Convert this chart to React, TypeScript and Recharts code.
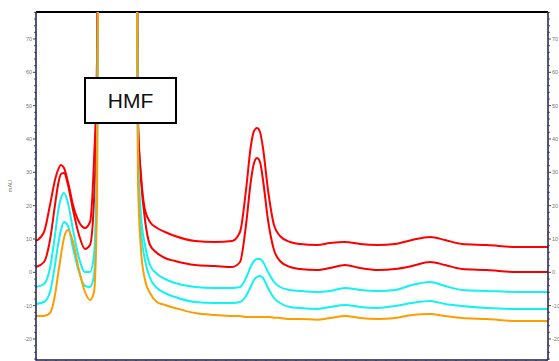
import React from 'react';
import { LineChart, Line, XAxis, YAxis, ReferenceLine } from 'recharts';

// retention time (min)
const TIME = [
  0.0, 0.16, 0.28, 0.38, 0.44, 0.5, 0.56, 0.64, 0.74, 0.86, 0.98, 1.08, 1.16, 1.22, 1.28, 1.64, 1.98,
  2.04, 2.1, 2.18, 2.28, 2.42, 2.58, 2.78, 3.18, 3.58, 3.92, 4.08, 4.2, 4.3, 4.36, 4.42, 4.48, 4.54,
  4.64, 4.76, 4.88, 5.08, 5.28, 5.62, 5.88, 6.18, 6.48, 6.84, 7.18, 7.52, 7.88, 8.18, 8.52, 9.02, 9.62, 10.24,
];

// mAU
const RED_A = [
  9.4, 12.1, 20.2, 27.7, 30.7, 32.2, 31.3, 27.1, 20.2, 15.1, 13.3, 15.1, 33.7, 63.7, 200, 400, 200,
  45.7, 29.2, 18.7, 15.1, 13.3, 12.1, 10.9, 9.4, 9.1, 9.4, 12.1, 24.7, 38.2, 42.4, 43.3, 42.1, 37.3,
  24.7, 14.2, 10.9, 9.1, 8.5, 8.2, 8.8, 9.1, 8.5, 8.2, 8.5, 9.7, 10.6, 9.7, 8.5, 8.2, 7.6, 7.6,
];
const RED_B = [
  1.6, 3.1, 9.7, 20.2, 26.2, 29.5, 29.8, 26.2, 18.7, 11.2, 7.0, 8.2, 21.7, 54.7, 200, 400, 200,
  44.2, 27.7, 15.7, 8.2, 5.8, 4.3, 3.4, 2.2, 1.9, 1.6, 3.1, 14.2, 27.7, 32.8, 34.3, 33.1, 27.7,
  15.7, 6.7, 3.4, 1.6, 1.0, 0.7, 1.3, 2.2, 1.3, 0.7, 1.0, 1.9, 3.1, 2.2, 1.0, 0.7, 0.1, 0.1,
];
const CYAN_A = [
  -4.4, -3.5, 1.3, 11.2, 18.1, 22.3, 23.8, 20.8, 12.7, 4.3, 0.1, 0.1, 5.2, 36.7, 200, 400, 200,
  36.7, 17.2, 8.2, 2.2, -0.5, -2.0, -3.2, -4.4, -4.7, -4.7, -4.4, -1.7, 1.9, 3.4, 4.0, 4.0, 3.1,
  0.1, -2.9, -4.4, -5.3, -5.6, -5.9, -5.6, -4.7, -5.3, -5.6, -5.3, -3.8, -2.9, -4.1, -5.3, -5.6, -5.9, -5.9,
];
const CYAN_B = [
  -9.5, -8.9, -5.9, 2.2, 8.2, 12.7, 15.1, 13.9, 7.3, 0.1, -4.1, -4.4, -0.8, 24.7, 200, 400, 200,
  32.2, 12.7, 3.7, -1.7, -4.7, -6.2, -7.4, -8.9, -9.2, -9.2, -8.9, -7.1, -4.1, -2.3, -1.4, -1.1, -1.7,
  -4.7, -7.7, -9.2, -10.4, -10.7, -11.0, -10.4, -9.8, -10.4, -10.7, -10.1, -9.2, -8.6, -9.5, -10.1, -10.7, -11.0, -11.0,
];
const ORANGE = [
  -13.1, -13.1, -12.2, -6.8, -0.8, 5.2, 10.3, 12.7, 9.1, 0.7, -5.9, -8.3, -5.9, 21.7, 200, 400, 200,
  27.7, 6.7, -2.3, -6.2, -8.9, -9.8, -10.7, -12.2, -12.8, -13.1, -13.1, -13.4, -13.4, -13.4, -13.4, -13.4, -13.4,
  -13.4, -13.6, -13.7, -14.0, -14.0, -14.2, -13.7, -13.1, -13.7, -14.0, -13.7, -12.8, -12.5, -13.1, -13.7, -14.0, -14.6, -14.6,
];

const SERIES = [
  { key: 'redA', values: RED_A, color: '#ff0000' },
  { key: 'redB', values: RED_B, color: '#f80000' },
  { key: 'cyanA', values: CYAN_A, color: '#12f2f2' },
  { key: 'cyanB', values: CYAN_B, color: '#12f2f2' },
  { key: 'orange', values: ORANGE, color: '#ff9c00' },
];

const Y_MIN = -26.3;
const Y_MAX = 78.1;
const X_MAX = 10.24;

const steps = (from: number, to: number, step: number) => {
  const out: number[] = [];
  for (let v = from; v <= to + 1e-9; v += step) out.push(Math.round(v * 100) / 100);
  return out;
};
const Y_TICKS = steps(-26, 78, 2);
const X_TICKS = steps(0, 10.2, 0.2);

const rows = TIME.map((t, i) => {
  const row: Record<string, number> = { t };
  SERIES.forEach((s) => (row[s.key] = s.values[i]));
  return row;
});

const AXIS = '#1c1c3c';
const MINOR = '#2a2aa8';

function YTick(props: any) {
  const { x, y, payload, side } = props;
  const major = payload.value % 10 === 0;
  const dir = side === 'left' ? -1 : 1;
  return (
    <g>
      <line x1={x} x2={x + dir * (major ? 3 : 1.8)} y1={y} y2={y} stroke={major ? '#444' : MINOR} strokeWidth={1} />
      {major && (
        <text x={x + dir * 4} y={y} dy="0.35em" textAnchor={dir < 0 ? 'end' : 'start'} fontSize={5.5} fill="#777" fontFamily="Liberation Sans, Arial, sans-serif">
          {payload.value}
        </text>
      )}
    </g>
  );
}

function XTick(props: any) {
  const { x, y, payload } = props;
  const major = Math.abs(payload.value - Math.round(payload.value)) < 1e-6;
  return <line x1={x} x2={x} y1={y} y2={y + (major ? 4 : 2)} stroke={MINOR} strokeWidth={1.2} />;
}

export default function App() {
  return (
    <div style={{ position: 'absolute', left: 0, top: 0, width: 559, height: 361, overflow: 'hidden', background: '#fff' }}>
      <LineChart width={559} height={385} data={rows} margin={{ top: 12, right: 0, bottom: 0, left: 0 }}>
        <XAxis
          dataKey="t"
          type="number"
          domain={[0, X_MAX]}
          ticks={X_TICKS}
          interval={0}
          height={25}
          tickSize={0}
          tickMargin={0}
          tick={<XTick />}
          axisLine={{ stroke: AXIS, strokeWidth: 1.5 }}
        />
        <YAxis
          yAxisId="left"
          orientation="left"
          width={36}
          domain={[Y_MIN, Y_MAX]}
          allowDataOverflow
          ticks={Y_TICKS}
          interval={0}
          tickSize={0}
          tickMargin={0}
          tick={(p: any) => <YTick {...p} side="left" />}
          axisLine={{ stroke: AXIS, strokeWidth: 1.5 }}
          label={{
            content: ({ viewBox }: any) => (
              <text
                x={viewBox.x + 12}
                y={viewBox.y + viewBox.height / 2}
                transform={`rotate(-90 ${viewBox.x + 12} ${viewBox.y + viewBox.height / 2})`}
                textAnchor="middle"
                fontSize={5.5}
                fill="#777"
                fontFamily="Liberation Sans, Arial, sans-serif"
              >
                mAU
              </text>
            ),
          }}
        />
        <YAxis
          yAxisId="right"
          orientation="right"
          width={11}
          domain={[Y_MIN, Y_MAX]}
          allowDataOverflow
          ticks={Y_TICKS}
          interval={0}
          tickSize={0}
          tickMargin={0}
          tick={(p: any) => <YTick {...p} side="right" />}
          axisLine={{ stroke: AXIS, strokeWidth: 1.5 }}
        />
        <ReferenceLine yAxisId="left" y={Y_MAX} stroke="#000" strokeWidth={2} />
        {SERIES.map((s) => (
          <Line
            key={s.key}
            yAxisId="left"
            type="monotone"
            dataKey={s.key}
            stroke={s.color}
            strokeWidth={2}
            dot={false}
            isAnimationActive={false}
          />
        ))}
      </LineChart>
      <div
        style={{
          position: 'absolute',
          left: 84,
          top: 77,
          width: 93,
          height: 47,
          boxSizing: 'border-box',
          border: '2px solid #000',
          background: '#fff',
          display: 'flex',
          alignItems: 'center',
          justifyContent: 'center',
          fontFamily: 'Liberation Sans, Arial, sans-serif',
          fontSize: 21,
          color: '#111',
        }}
      >
        HMF
      </div>
    </div>
  );
}
